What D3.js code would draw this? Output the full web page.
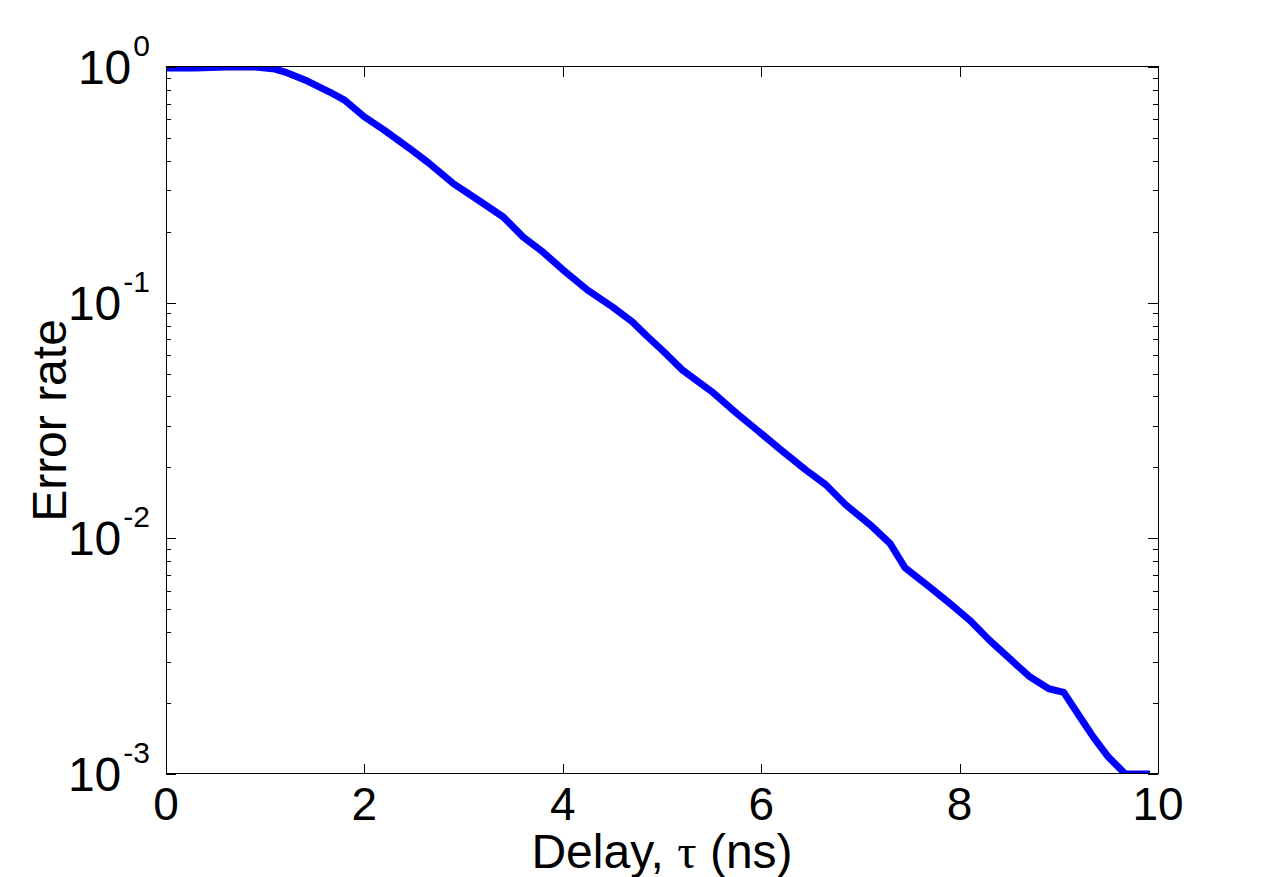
<!DOCTYPE html>
<html>
<head>
<meta charset="utf-8">
<script src="https://cdn.jsdelivr.net/npm/d3@7"></script>
<style>
  body { margin: 0; background: #fff; }
  svg { display: block; font-family: "Liberation Sans", Arial, Helvetica, sans-serif; }
</style>
</head>
<body>
<svg id="chart"></svg>
<script>
const delay = [0, 0.3, 0.6, 0.9, 1.1, 1.2, 1.4, 1.65, 1.8, 2.0, 2.2, 2.45, 2.65, 2.9,
  3.15, 3.4, 3.6, 3.8, 4.0, 4.25, 4.5, 4.7, 4.85, 5.0, 5.2, 5.5, 5.75, 5.95, 6.2,
  6.45, 6.65, 6.85, 7.1, 7.3, 7.45, 7.7, 7.9, 8.1, 8.3, 8.5, 8.7, 8.9, 9.05, 9.2,
  9.35, 9.5, 9.67, 9.92];
const errorRate = [0.99, 0.99, 1.0, 1.0, 0.98, 0.952, 0.881, 0.783, 0.724, 0.614,
  0.54, 0.453, 0.391, 0.319, 0.272, 0.231, 0.19, 0.164, 0.138, 0.113, 0.096, 0.083,
  0.072, 0.063, 0.052, 0.042, 0.034, 0.029, 0.0237, 0.0195, 0.0169, 0.0139, 0.0114,
  0.0095, 0.0075, 0.0062, 0.0053, 0.0045, 0.0037, 0.0031, 0.0026, 0.0023, 0.00222,
  0.00178, 0.00143, 0.00118, 0.001, 0.001];

const xTicks = [0, 2, 4, 6, 8, 10];
const yDecades = [0, -1, -2, -3];

const width = 1280, height = 877;
const margin = { top: 67, right: 122, bottom: 103, left: 166 };

const svg = d3.select('#chart').attr('width', width).attr('height', height);

const x = d3.scaleLinear().domain([0, 10]).range([margin.left, width - margin.right]);
const y = d3.scaleLog().domain([1e-3, 1]).range([height - margin.bottom, margin.top]);

svg.append('clipPath').attr('id', 'clip')
  .append('rect')
  .attr('x', x(0)).attr('y', y(1))
  .attr('width', x(10) - x(0)).attr('height', y(1e-3) - y(1));

const line = d3.line().x((d, i) => x(delay[i])).y(d => y(d));

svg.append('path')
  .datum(errorRate)
  .attr('clip-path', 'url(#clip)')
  .attr('fill', 'none')
  .attr('stroke', '#0000ff')
  .attr('stroke-width', 7)
  .attr('stroke-linejoin', 'round')
  .attr('d', line);

// ticks, all pointing inward like MATLAB
const ticks = svg.append('g').attr('stroke', '#000').attr('stroke-width', 1);
xTicks.forEach(t => {
  const px = Math.round(x(t)) + 0.5;
  ticks.append('line').attr('x1', px).attr('x2', px)
    .attr('y1', y(1e-3)).attr('y2', y(1e-3) - 10);
  ticks.append('line').attr('x1', px).attr('x2', px)
    .attr('y1', y(1)).attr('y2', y(1) + 10);
});
yDecades.forEach(e => {
  for (let m = 1; m < 10; m++) {
    const v = m * Math.pow(10, e);
    if (v > 1 || (e === 0 && m > 1)) continue;
    const py = Math.round(y(v)) + 0.5;
    const len = m === 1 ? 10 : 5;
    ticks.append('line').attr('x1', x(0)).attr('x2', x(0) + len).attr('y1', py).attr('y2', py);
    ticks.append('line').attr('x1', x(10)).attr('x2', x(10) - len).attr('y1', py).attr('y2', py);
  }
});

// frame
svg.append('rect')
  .attr('x', Math.round(x(0)) + 0.5).attr('y', Math.round(y(1)) - 0.5)
  .attr('width', Math.round(x(10) - x(0))).attr('height', Math.round(y(1e-3) - y(1)))
  .attr('fill', 'none').attr('stroke', '#000').attr('stroke-width', 1);

// x tick labels
svg.append('g').selectAll('text').data(xTicks).join('text')
  .attr('x', d => x(d)).attr('y', y(1e-3) + 46)
  .attr('text-anchor', 'middle')
  .attr('font-size', 46)
  .text(d => d);

// y tick labels 10^e
const yl = svg.append('g').selectAll('text').data(yDecades).join('text')
  .attr('x', 150).attr('y', d => y(Math.pow(10, d)) + 17)
  .attr('text-anchor', 'end')
  .attr('font-size', 48);
yl.append('tspan').text('10');
yl.append('tspan').attr('dx', 2).attr('dy', -28).attr('font-size', 30).text(d => d);

// axis titles
const xt = svg.append('text')
  .attr('x', (x(0) + x(10)) / 2).attr('y', 868)
  .attr('text-anchor', 'middle')
  .attr('font-size', 48);
xt.append('tspan').text('Delay, ');
xt.append('tspan').attr('font-family', '"Liberation Serif", "Times New Roman", serif').text('τ');
xt.append('tspan').text(' (ns)');

svg.append('text')
  .attr('transform', `translate(66,${(y(1) + y(1e-3)) / 2}) rotate(-90)`)
  .attr('text-anchor', 'middle')
  .attr('font-size', 48)
  .text('Error rate');
</script>
</body>
</html>
